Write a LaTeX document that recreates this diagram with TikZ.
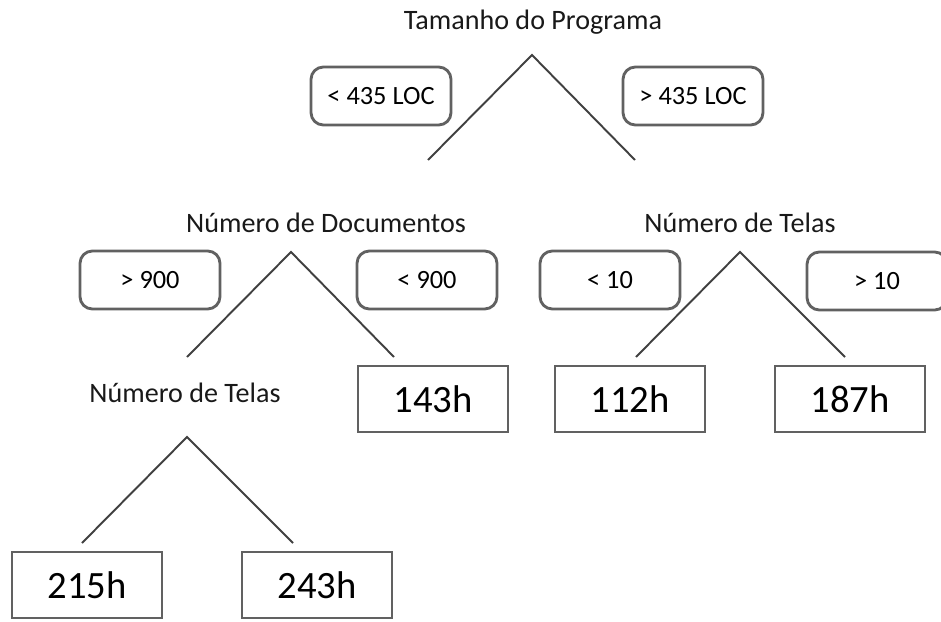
\documentclass[tikz,border=0pt]{standalone}
\usepackage{fontspec}
\setmainfont{Carlito}
\usetikzlibrary{positioning}

\begin{document}
\begin{tikzpicture}[x=0.02cm, y=-0.02cm]
        \tikzstyle{attr} = [font=\fontsize{16}{19}\selectfont, text=black!90]
        \tikzstyle{cond} = [rectangle, draw=black!62, line width=1.6pt, rounded corners=7pt, minimum width=2.8cm, minimum height=1.16cm, font=\fontsize{15}{18}\selectfont]
        \tikzstyle{leaf} = [rectangle, draw=black!62, line width=1.6pt, minimum width=3cm, minimum height=1.32cm, font=\fontsize{22}{26}\selectfont]
        \tikzstyle{branch} = [draw=black!75, line width=1.1pt]

        \useasboundingbox (0,0) rectangle (941,622);
        \clip (0,0) rectangle (941,622);

        % Root
        \node [attr] (prog) at (533,22) {Tamanho do Programa};
        \coordinate (a1) at (532,55);
        \coordinate (l1) at (428,160);
        \coordinate (r1) at (635,160);
        \node [cond] (loclt) at (381,96) {< 435 LOC};
        \node [cond] (locgt) at (693,96) {> 435 LOC};

        % Second level
        \node [attr] (docs) at (326,223) {Número de Documentos};
        \coordinate (a2) at (291,252);
        \coordinate (l2) at (187,357);
        \coordinate (r2) at (394,357);
        \node [cond] (dgt) at (150,280) {> 900};
        \node [cond] (dlt) at (427,280) {< 900};

        \node [attr] (telas1) at (740,223) {Número de Telas};
        \coordinate (a3) at (740,252);
        \coordinate (l3) at (636,357);
        \coordinate (r3) at (845,357);
        \node [cond] (tlt) at (610,280) {< 10};
        \node [cond] (tgt) at (877,281) {> 10};

        % Leaves
        \node [leaf] (h143) at (433,399) {143h};
        \node [leaf] (h112) at (630,399) {112h};
        \node [leaf] (h187) at (850,399) {187h};

        % Third level
        \node [attr] (telas2) at (185,393) {Número de Telas};
        \coordinate (a4) at (187,437);
        \coordinate (l4) at (82,543);
        \coordinate (r4) at (293,543);
        \node [leaf] (h215) at (87,585) {215h};
        \node [leaf] (h243) at (317,585) {243h};

        % Branches
        \path [branch] (l1) -- (a1) -- (r1);
        \path [branch] (l2) -- (a2) -- (r2);
        \path [branch] (l3) -- (a3) -- (r3);
        \path [branch] (l4) -- (a4) -- (r4);
    \end{tikzpicture}
\end{document}
